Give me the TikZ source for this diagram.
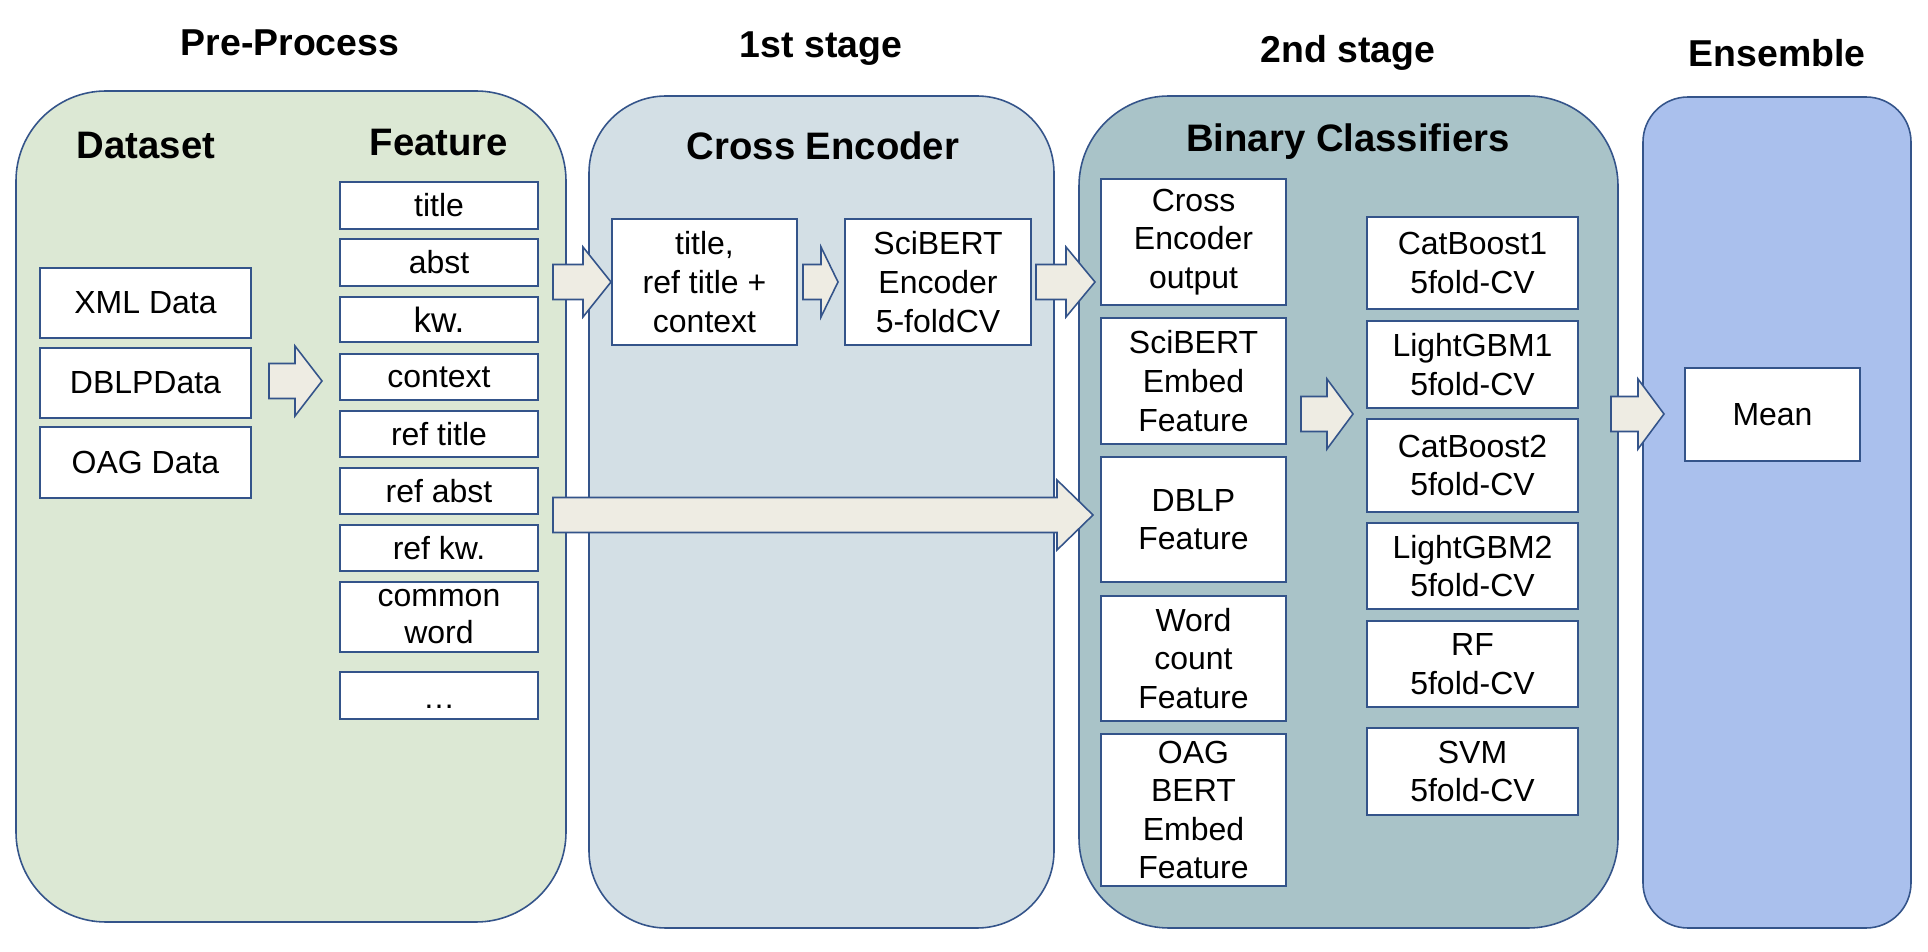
\documentclass[tikz,border=0pt]{standalone}
\usepackage{fontspec}
\setmainfont{Liberation Sans}
\definecolor{bordc}{RGB}{52,84,138}
\definecolor{pone}{RGB}{220,232,212}
\definecolor{ptwo}{RGB}{211,223,229}
\definecolor{pthree}{RGB}{169,195,200}
\definecolor{pfour}{RGB}{170,192,237}
\definecolor{arrfill}{RGB}{238,236,227}
\newcommand\mybox[6]{\node[boxst,minimum width={(#4-#2)*0.02cm},minimum height={(#5-#3)*0.02cm}] (#1) at ({(#2+#4)/2},{(#3+#5)/2}) {#6};}
\newcommand\blockarrow[4]{%
  \draw[barrow] (#1,#4-17.5) -- (#2,#4-17.5) -- (#2,#4-35) -- (#3,#4) -- (#2,#4+35) -- (#2,#4+17.5) -- (#1,#4+17.5) -- cycle;}
\begin{document}
\begin{tikzpicture}[x=0.02cm,y=-0.02cm,
  panel/.style={draw=bordc,line width=0.9pt},
  boxst/.style={draw=bordc,fill=white,line width=0.9pt,inner sep=0pt,align=center,
    font=\fontsize{18.2pt}{22pt}\selectfont},
  barrow/.style={draw=bordc,fill=arrfill,line width=0.9pt,line join=miter},
  ttl/.style={font=\fontsize{21.3pt}{25pt}\selectfont\bfseries,anchor=center},
  hdr/.style={font=\fontsize{21.8pt}{25pt}\selectfont\bfseries,anchor=center}]
\useasboundingbox (0,0) rectangle (1928,952);
\fill[white] (0,0) rectangle (1928,952);
% panels
\draw[panel,fill=pone,rounded corners=1.8cm] (16,91) rectangle (566,922);
\draw[panel,fill=ptwo,rounded corners=1.54cm] (589,96) rectangle (1054,928);
\draw[panel,fill=pthree,rounded corners=1.8cm] (1079,96) rectangle (1618,928);
\draw[panel,fill=pfour,rounded corners=0.9cm] (1643,97) rectangle (1911,928);
% titles
\node[ttl] (t1) at (290,43) {Pre-Process};
\node[ttl] (t2) at (821,49) {1st stage};
\node[ttl] (t3) at (1348,53) {2nd stage};
\node[ttl] (t4) at (1777,53) {Ensemble};
\node[hdr] (h1) at (146,146) {Dataset};
\node[hdr] (h2) at (439,143) {Feature};
\node[hdr] (h3) at (823,146) {Cross Encoder};
\node[hdr] (h4) at (1348,142) {Binary Classifiers};
% arrows
\blockarrow{269}{295}{322}{381}
\blockarrow{553}{583}{611}{282}
\blockarrow{803}{821}{838}{282}
\blockarrow{1036}{1066}{1095}{282}
\blockarrow{553}{1057}{1093}{515}
\blockarrow{1301}{1327}{1353}{414}
\blockarrow{1611}{1638}{1664}{414}
% dataset
\mybox{xml}{40}{268}{251}{338}{XML Data}
\mybox{dblp}{40}{348}{251}{418}{DBLPData}
\mybox{oag}{40}{427}{251}{498}{OAG Data}
% features
\mybox{ftitle}{340}{182}{538}{229}{title}
\mybox{fabst}{340}{239}{538}{286}{abst}
\mybox{fkw}{340}{297}{538}{342}{\fontsize{20pt}{22pt}\selectfont kw.}
\mybox{fctx}{340}{354}{538}{400}{context}
\mybox{freft}{340}{411}{538}{457}{ref title}
\mybox{frefa}{340}{468}{538}{514}{ref abst}
\mybox{frefk}{340}{525}{538}{571}{ref kw.}
\mybox{fcom}{340}{582}{538}{652}{common\\[-1pt]word}
\mybox{fdots}{340}{672}{538}{719}{\strut\raisebox{-3pt}{…}}
% cross encoder
\mybox{cin}{612}{219}{797}{345}{title,\\ref title +\\context}
\mybox{cenc}{845}{219}{1031}{345}{SciBERT\\Encoder\\5-foldCV}
% binary classifiers left
\mybox{lce}{1101}{179}{1286}{305}{Cross\\Encoder\\output}
\mybox{lsci}{1101}{318}{1286}{444}{SciBERT\\Embed\\Feature}
\mybox{ldblp}{1101}{457}{1286}{582}{DBLP\\Feature}
\mybox{lwc}{1101}{596}{1286}{721}{Word\\count\\Feature}
\mybox{loag}{1101}{734}{1286}{886}{OAG\\BERT\\Embed\\Feature}
% binary classifiers right
\mybox{cb1}{1367}{217}{1578}{309}{CatBoost1\\5fold-CV}
\mybox{lg1}{1367}{321}{1578}{408}{LightGBM1\\5fold-CV}
\mybox{cb2}{1367}{419}{1578}{512}{CatBoost2\\5fold-CV}
\mybox{lg2}{1367}{523}{1578}{609}{LightGBM2\\5fold-CV}
\mybox{rf}{1367}{621}{1578}{707}{RF\\5fold-CV}
\mybox{svm}{1367}{728}{1578}{815}{SVM\\5fold-CV}
% ensemble
\mybox{mean}{1685}{368}{1860}{461}{Mean}
\end{tikzpicture}
\end{document}
